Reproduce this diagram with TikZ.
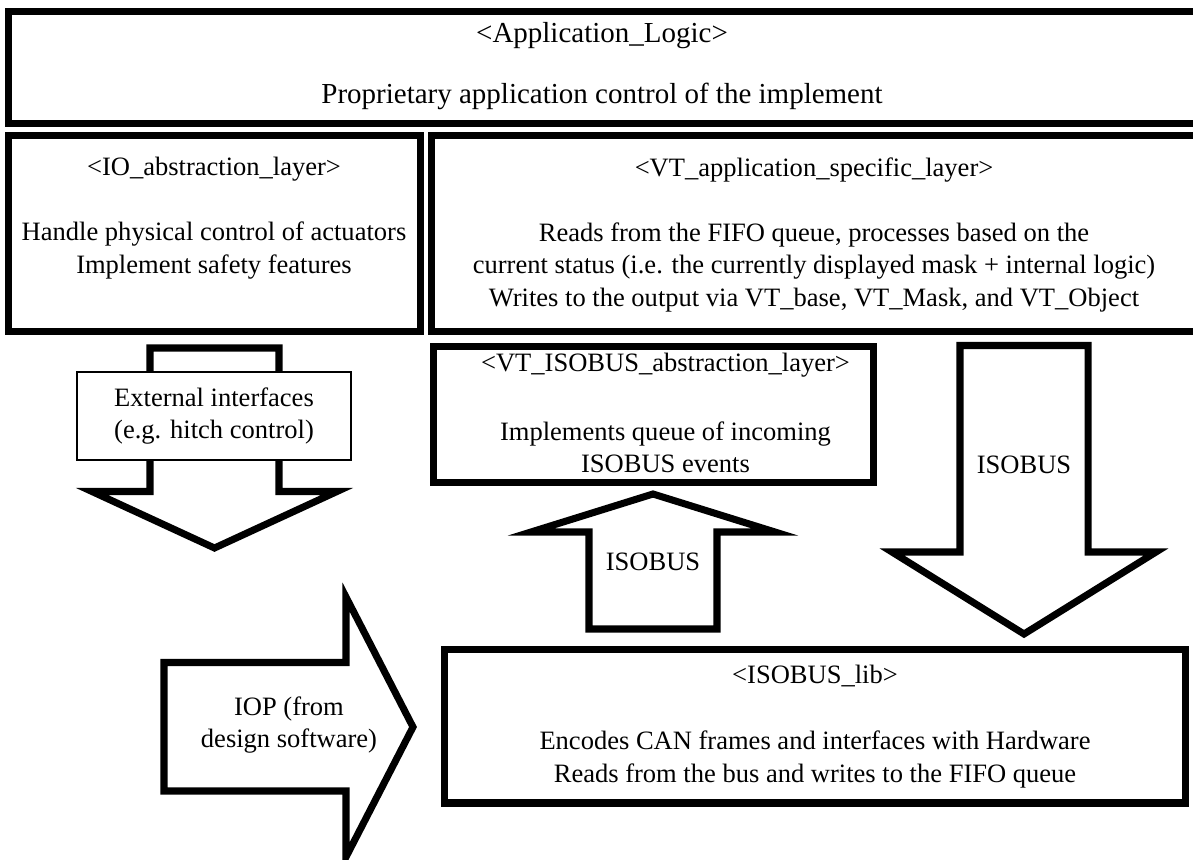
\documentclass[tikz,border=0pt]{standalone}
\usepackage{fontspec}
\setmainfont{Liberation Serif}
\usepackage{tikz}

\begin{document}
\begin{tikzpicture}[
    x=0.02cm, y=-0.02cm,
    layer/.style={rectangle, draw, line width=4pt, inner sep=0pt},
    txt/.style={align=center, inner sep=0pt, font=\fontsize{15.1}{18.7}\selectfont},
    tag/.style={rectangle, draw, line width=0.85pt, fill=white, inner sep=0pt,
      align=center, font=\fontsize{15.1}{18.7}\selectfont},
    blockarrow/.style={draw, line width=4pt, line join=miter, fill=white},
  ]
  \useasboundingbox (0,0) rectangle (1193,859);

  %% --- Layer boxes (thick frames) ---
  % app and vtapp run past the right edge
  \node[layer, minimum width=24.44cm, minimum height=2.24cm] (app) at (619,67.5) {};
  \node[layer, minimum width=8.26cm, minimum height=3.93cm] (io) at (214.5,233.25) {};
  \node[layer, minimum width=15.98cm, minimum height=3.93cm] (vtapp) at (830.5,233.25) {};
  \node[layer, minimum width=8.81cm, minimum height=2.73cm] (vtiso) at (653.25,414.25) {};
  \node[layer, minimum width=14.83cm, minimum height=3.07cm] (lib) at (815.25,726.25) {};

  %% --- Layer texts ---
  \node[txt, font=\fontsize{16.5}{18.7}\selectfont] (appT) at (602,66)
    {<Application\_Logic>\\[0.58cm]Proprietary application control of the implement};
  \node[txt] (ioT) at (214,218.5)
    {<IO\_abstraction\_layer>\\[0.64cm]Handle physical control of actuators\\Implement safety features};
  \node[txt] (vtappT) at (814,235)
    {<VT\_application\_specific\_layer>\\[0.64cm]Reads from the FIFO queue, processes based on the\\
     current status (i.e. the currently displayed mask + internal logic)\\
     Writes to the output via VT\_base, VT\_Mask, and VT\_Object};
  \node[txt] (vtisoT) at (665.5,413)
    {<VT\_ISOBUS\_abstraction\_layer>\\[0.72cm]Implements queue of incoming\\ISOBUS events};
  \node[txt] (libT) at (815,726.5)
    {<ISOBUS\_lib>\\[0.68cm]Encodes CAN frames and interfaces with Hardware\\
     Reads from the bus and writes to the FIFO queue};

  %% --- Block arrows ---
  % external interfaces, down
  \draw[blockarrow] (150,348) -- (279,348) -- (279,491.5) -- (337,491.5)
    -- (214.5,548) -- (92,491.5) -- (150,491.5) -- cycle;
  \node[tag, minimum width=5.48cm, minimum height=1.76cm] (ext) at (214,416)
    {External interfaces\\(e.g. hitch control)};
  % ISOBUS up into the abstraction layer
  \draw[blockarrow] (589,629) -- (589,532) -- (531,532) -- (653,494)
    -- (775,532) -- (717,532) -- (717,629) -- cycle;
  \node[txt] (upT) at (653,562) {ISOBUS};
  % ISOBUS down into the lib
  \draw[blockarrow] (960,345.5) -- (1088,345.5) -- (1088,552) -- (1156,552)
    -- (1024,634) -- (892,552) -- (960,552) -- cycle;
  \node[txt] (downT) at (1024,465) {ISOBUS};
  % IOP, right
  \draw[blockarrow] (164,662.5) -- (346,662.5) -- (346,597) -- (413,727)
    -- (346,857) -- (346,791) -- (164,791) -- cycle;
  \node[txt] (iopT) at (289,725) {IOP (from\\design software)};
\end{tikzpicture}
\end{document}
